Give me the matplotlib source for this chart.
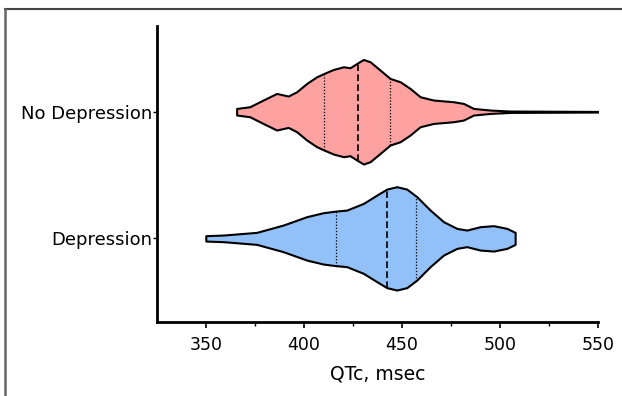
import matplotlib.pyplot as plt
import numpy as np
from matplotlib.lines import Line2D

groups = ["Depression", "No Depression"]

# QTc (msec) positions along each violin and the half-width (pixels)
nodep_qtc = [365.7, 372.4, 379.2, 386.1, 392.0, 396.3, 401.4, 406.5, 410.2, 415.0,
             420.1, 423.5, 426.9, 430.3, 433.7, 438.8, 443.9, 449.0, 454.1, 459.2,
             466.0, 476.2, 481.3, 486.4, 494.9, 505.1, 551.0]
nodep_hw = [3.3, 5.0, 11.7, 18.3, 15.7, 20.0, 28.3, 35.0, 38.3, 42.3,
            45.0, 44.0, 48.3, 52.3, 50.0, 41.7, 33.3, 30.0, 23.3, 15.0,
            11.7, 10.0, 8.3, 3.3, 1.7, 0.7, 0.3]
nodep_quart = [410.2, 427.4, 443.9]

dep_qtc = [350.0, 358.8, 375.9, 389.4, 401.4, 409.9, 416.2, 421.8, 430.3, 437.1,
           442.2, 447.3, 452.4, 457.5, 464.3, 471.1, 477.9, 483.0, 489.8, 496.6,
           503.4, 507.6]
dep_hw = [2.7, 3.3, 6.0, 13.3, 21.7, 25.7, 27.3, 28.3, 35.0, 43.3,
          49.3, 51.7, 49.3, 41.7, 28.3, 16.7, 10.0, 8.3, 11.7, 12.7,
          10.0, 6.0]
dep_quart = [416.2, 442.2, 457.0]

px_per_unit = 126.7

fig = plt.figure(figsize=(6.22, 3.96), dpi=100)
ax = fig.add_axes([0.252, 0.187, 0.710, 0.747])

def violin(qtc, hw, quart, y0, color):
    qtc = np.array(qtc)
    hw = np.array(hw) / px_per_unit
    ax.fill_between(qtc, y0 - hw, y0 + hw, facecolor=color, edgecolor="black",
                    linewidth=1.5, joinstyle="round", zorder=2)
    for i, q in enumerate(quart):
        h = np.interp(q, qtc, hw)
        ls = (0, (4, 2)) if i == 1 else (0, (1, 1.5))
        ax.plot([q, q], [y0 - h, y0 + h], color="black", linestyle=ls,
                linewidth=1.2 if i == 1 else 0.9, zorder=3)

violin(dep_qtc, dep_hw, dep_quart, 0, "#92c0f8")
violin(nodep_qtc, nodep_hw, nodep_quart, 1, "#fda1a1")

ax.set_xlim(325, 550)
ax.set_ylim(-0.66, 1.676)
ax.set_yticks([0, 1])
ax.set_yticklabels(groups, fontsize=13)
ax.set_xticks([350, 400, 450, 500, 550])
ax.set_xticks([375, 425, 475, 525], minor=True)
ax.tick_params(axis="x", labelsize=12.5, length=4, width=1.2, pad=6)
ax.tick_params(axis="x", which="minor", length=3, width=1)
ax.tick_params(axis="y", length=3, width=1, pad=0.5)
ax.set_xlabel("QTc, msec", fontsize=13.5, labelpad=8)
for s in ["top", "right"]:
    ax.spines[s].set_visible(False)
for s in ["left", "bottom"]:
    ax.spines[s].set_linewidth(2)

# image frame lines on top and left
fig.add_artist(Line2D([0.008, 1.0], [0.977, 0.977], color="#444444", linewidth=1.5))
fig.add_artist(Line2D([0.008, 0.008], [0.0, 0.977], color="#666666", linewidth=1.8))

fig.savefig("out.png", dpi=100)
